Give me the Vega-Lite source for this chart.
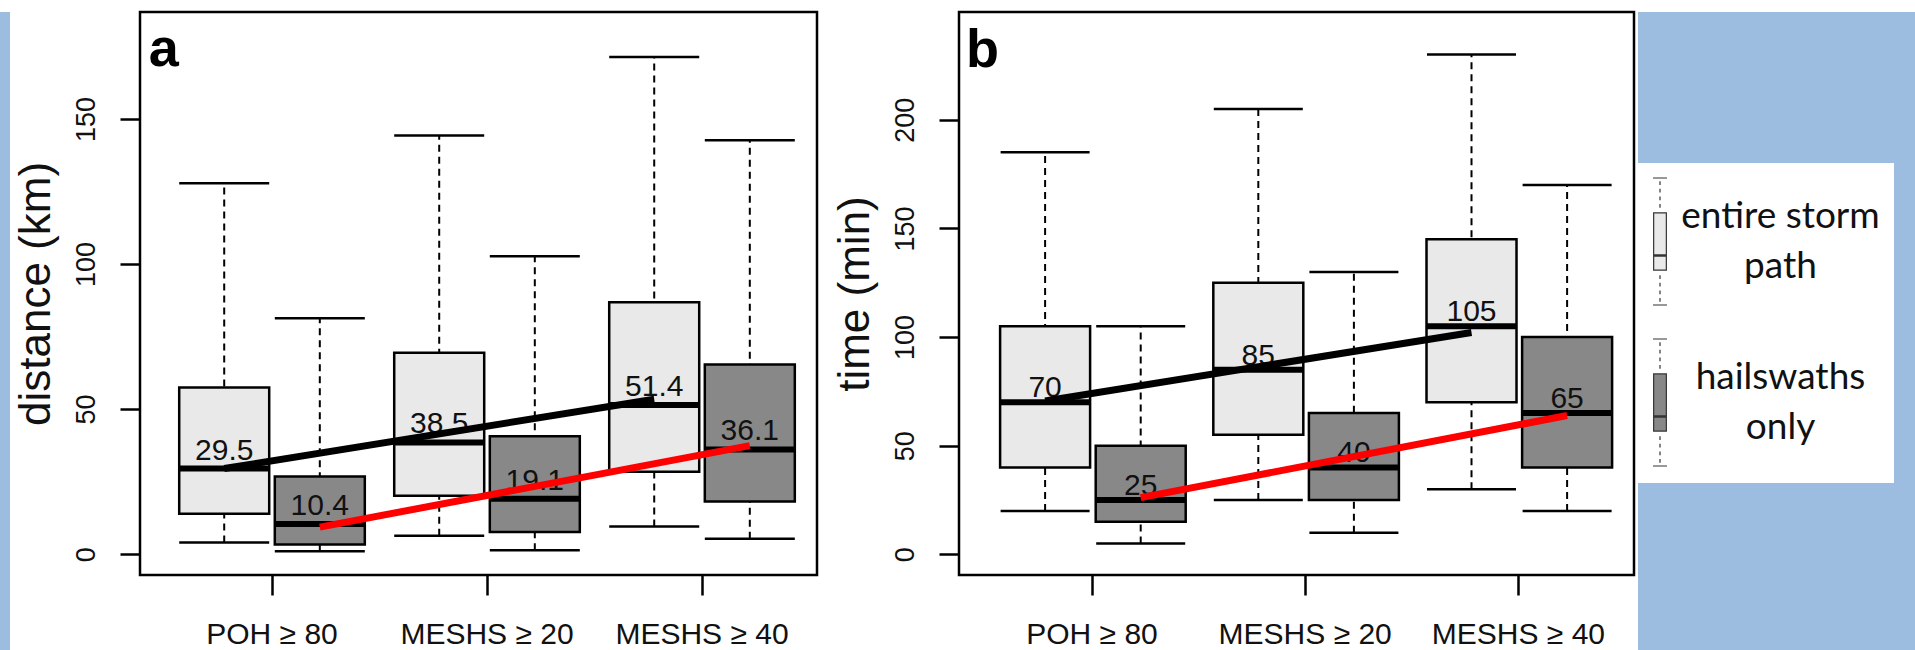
{
  "$schema": "https://vega.github.io/schema/vega-lite/v6.json",
  "background": "white",
  "padding": {"left": 0, "top": 10, "right": 0, "bottom": 0},
  "spacing": 2,
  "datasets": {
    "boxesA": [
      {"group": "POH ≥ 80", "type": "entire storm path", "lower": 4.0, "q1": 13.9, "median": 29.5, "q3": 57.4, "upper": 127.9},
      {"group": "POH ≥ 80", "type": "hailswaths only", "lower": 1.0, "q1": 3.3, "median": 10.4, "q3": 26.8, "upper": 81.3},
      {"group": "MESHS ≥ 20", "type": "entire storm path", "lower": 6.3, "q1": 20.1, "median": 38.5, "q3": 69.4, "upper": 144.3},
      {"group": "MESHS ≥ 20", "type": "hailswaths only", "lower": 1.3, "q1": 7.6, "median": 19.1, "q3": 40.6, "upper": 102.7},
      {"group": "MESHS ≥ 40", "type": "entire storm path", "lower": 9.5, "q1": 28.4, "median": 51.4, "q3": 86.8, "upper": 171.4},
      {"group": "MESHS ≥ 40", "type": "hailswaths only", "lower": 5.3, "q1": 18.1, "median": 36.1, "q3": 65.4, "upper": 142.7}
    ],
    "boxesB": [
      {"group": "POH ≥ 80", "type": "entire storm path", "lower": 20, "q1": 40, "median": 70, "q3": 105, "upper": 185},
      {"group": "POH ≥ 80", "type": "hailswaths only", "lower": 5, "q1": 15, "median": 25, "q3": 50, "upper": 105},
      {"group": "MESHS ≥ 20", "type": "entire storm path", "lower": 25, "q1": 55, "median": 85, "q3": 125, "upper": 205},
      {"group": "MESHS ≥ 20", "type": "hailswaths only", "lower": 10, "q1": 25, "median": 40, "q3": 65, "upper": 130},
      {"group": "MESHS ≥ 40", "type": "entire storm path", "lower": 30, "q1": 70, "median": 105, "q3": 145, "upper": 230},
      {"group": "MESHS ≥ 40", "type": "hailswaths only", "lower": 20, "q1": 40, "median": 65, "q3": 100, "upper": 170}
    ],
    "trendA": [
      {"group": "POH ≥ 80", "type": "entire storm path", "series": "entire", "value": 29.5},
      {"group": "MESHS ≥ 40", "type": "entire storm path", "series": "entire", "value": 53.4},
      {"group": "POH ≥ 80", "type": "hailswaths only", "series": "hails", "value": 9.3},
      {"group": "MESHS ≥ 40", "type": "hailswaths only", "series": "hails", "value": 37.4}
    ],
    "trendB": [
      {"group": "POH ≥ 80", "type": "entire storm path", "series": "entire", "value": 70.6},
      {"group": "MESHS ≥ 40", "type": "entire storm path", "series": "entire", "value": 102.1},
      {"group": "POH ≥ 80", "type": "hailswaths only", "series": "hails", "value": 26.1},
      {"group": "MESHS ≥ 40", "type": "hailswaths only", "series": "hails", "value": 63.9}
    ]
  },
  "hconcat": [
    {
      "width": 10, "height": 640,
      "view": {"fill": "#9dbde0", "stroke": null},
      "data": {"values": []},
      "mark": "point"
    },
    {
      "spacing": 12,
      "hconcat": [
        {
          "width": 677, "height": 563,
          "layer": [
            {
              "data": {"name": "boxesA"},
              "mark": {"type": "rule", "color": "black", "strokeWidth": 2, "strokeDash": [7, 5]},
              "encoding": {
                "x": {"field": "group", "type": "nominal", "scale": {"domain": ["POH ≥ 80", "MESHS ≥ 20", "MESHS ≥ 40"], "paddingInner": 0, "paddingOuter": 0.0744, "align": 0.766}, "axis": {"title": null}},
                "xOffset": {"field": "type", "type": "nominal", "scale": {"domain": ["entire storm path", "hailswaths only"], "paddingInner": 0.0586, "paddingOuter": 0.1538}},
                "y": {"field": "lower", "type": "quantitative", "scale": {"domain": [-7.2, 186.9], "nice": false, "zero": false}, "axis": {"values": [0, 50, 100, 150], "title": "distance (km)"}},
                "y2": {"field": "upper"}
              }
            },
            {
              "data": {"name": "boxesA"},
              "mark": {"type": "bar", "stroke": "black", "strokeWidth": 2.5},
              "encoding": {
                "x": {"field": "group", "type": "nominal", "scale": {"domain": ["POH ≥ 80", "MESHS ≥ 20", "MESHS ≥ 40"], "paddingInner": 0, "paddingOuter": 0.0744, "align": 0.766}, "axis": {"title": null}},
                "xOffset": {"field": "type", "type": "nominal", "scale": {"domain": ["entire storm path", "hailswaths only"], "paddingInner": 0.0586, "paddingOuter": 0.1538}},
                "y": {"field": "q1", "type": "quantitative", "scale": {"domain": [-7.2, 186.9], "nice": false, "zero": false}, "axis": {"values": [0, 50, 100, 150], "title": "distance (km)"}},
                "y2": {"field": "q3"},
                "fill": {
                  "field": "type", "type": "nominal",
                  "scale": {"domain": ["entire storm path", "hailswaths only"], "range": ["#e9e9e9", "#888888"]},
                  "legend": {
                    "title": null, "orient": "none", "legendX": 1637, "legendY": 151, "direction": "vertical",
                    "padding": 14, "fillColor": "white", "strokeColor": null,
                    "symbolType": "M-0.11,-1H0.11M0,-0.95V-0.89M0,-0.83V-0.77M0,-0.71V-0.65M0,-0.59V-0.53M-0.1,-0.45H0.1V0.45H-0.1ZM-0.1,0.21H0.1M-0.1,0.23H0.1M0,0.53V0.59M0,0.65V0.71M0,0.77V0.83M0,0.89V0.95M-0.11,1H0.11",
                    "symbolSize": 16129, "symbolStrokeColor": "#333333", "symbolStrokeWidth": 1.2, "symbolOffset": -55.5,
                    "labelFont": "Lato", "labelFontSize": 37, "labelColor": "#111111", "labelAlign": "center", "labelBaseline": "line-bottom",
                    "labelOffset": 56, "labelLimit": 0, "rowPadding": 28,
                    "labelExpr": "datum.label == 'entire storm path' ? ['entire storm', 'path'] : ['hailswaths', 'only']"
                  }
                }
              }
            },
            {
              "data": {"name": "boxesA"},
              "mark": {"type": "tick", "color": "black", "opacity": 1, "thickness": 6, "size": 90, "orient": "horizontal"},
              "encoding": {
                "x": {"field": "group", "type": "nominal", "scale": {"domain": ["POH ≥ 80", "MESHS ≥ 20", "MESHS ≥ 40"], "paddingInner": 0, "paddingOuter": 0.0744, "align": 0.766}, "axis": {"title": null}},
                "xOffset": {"field": "type", "type": "nominal", "scale": {"domain": ["entire storm path", "hailswaths only"], "paddingInner": 0.0586, "paddingOuter": 0.1538}},
                "y": {"field": "median", "type": "quantitative", "scale": {"domain": [-7.2, 186.9], "nice": false, "zero": false}, "axis": {"values": [0, 50, 100, 150], "title": "distance (km)"}}
              }
            },
            {
              "data": {"name": "boxesA"},
              "mark": {"type": "tick", "color": "black", "opacity": 1, "thickness": 2.5, "size": 90, "orient": "horizontal"},
              "encoding": {
                "x": {"field": "group", "type": "nominal", "scale": {"domain": ["POH ≥ 80", "MESHS ≥ 20", "MESHS ≥ 40"], "paddingInner": 0, "paddingOuter": 0.0744, "align": 0.766}, "axis": {"title": null}},
                "xOffset": {"field": "type", "type": "nominal", "scale": {"domain": ["entire storm path", "hailswaths only"], "paddingInner": 0.0586, "paddingOuter": 0.1538}},
                "y": {"field": "lower", "type": "quantitative", "scale": {"domain": [-7.2, 186.9], "nice": false, "zero": false}, "axis": {"values": [0, 50, 100, 150], "title": "distance (km)"}}
              }
            },
            {
              "data": {"name": "boxesA"},
              "mark": {"type": "tick", "color": "black", "opacity": 1, "thickness": 2.5, "size": 90, "orient": "horizontal"},
              "encoding": {
                "x": {"field": "group", "type": "nominal", "scale": {"domain": ["POH ≥ 80", "MESHS ≥ 20", "MESHS ≥ 40"], "paddingInner": 0, "paddingOuter": 0.0744, "align": 0.766}, "axis": {"title": null}},
                "xOffset": {"field": "type", "type": "nominal", "scale": {"domain": ["entire storm path", "hailswaths only"], "paddingInner": 0.0586, "paddingOuter": 0.1538}},
                "y": {"field": "upper", "type": "quantitative", "scale": {"domain": [-7.2, 186.9], "nice": false, "zero": false}, "axis": {"values": [0, 50, 100, 150], "title": "distance (km)"}}
              }
            },
            {
              "data": {"name": "boxesA"},
              "mark": {"type": "text", "fontSize": 30, "dy": -18, "baseline": "middle", "color": "#111111"},
              "encoding": {
                "x": {"field": "group", "type": "nominal", "scale": {"domain": ["POH ≥ 80", "MESHS ≥ 20", "MESHS ≥ 40"], "paddingInner": 0, "paddingOuter": 0.0744, "align": 0.766}, "axis": {"title": null}},
                "xOffset": {"field": "type", "type": "nominal", "scale": {"domain": ["entire storm path", "hailswaths only"], "paddingInner": 0.0586, "paddingOuter": 0.1538}},
                "y": {"field": "median", "type": "quantitative", "scale": {"domain": [-7.2, 186.9], "nice": false, "zero": false}, "axis": {"values": [0, 50, 100, 150], "title": "distance (km)"}},
                "text": {"field": "median", "type": "quantitative", "format": ".1f"}
              }
            },
            {
              "data": {"name": "trendA"},
              "mark": {"type": "line", "strokeWidth": 7, "strokeCap": "butt"},
              "encoding": {
                "x": {"field": "group", "type": "nominal", "scale": {"domain": ["POH ≥ 80", "MESHS ≥ 20", "MESHS ≥ 40"], "paddingInner": 0, "paddingOuter": 0.0744, "align": 0.766}, "axis": {"title": null}},
                "xOffset": {"field": "type", "type": "nominal", "scale": {"domain": ["entire storm path", "hailswaths only"], "paddingInner": 0.0586, "paddingOuter": 0.1538}},
                "y": {"field": "value", "type": "quantitative", "scale": {"domain": [-7.2, 186.9], "nice": false, "zero": false}, "axis": {"values": [0, 50, 100, 150], "title": "distance (km)"}},
                "stroke": {"field": "series", "type": "nominal", "scale": {"domain": ["entire", "hails"], "range": ["black", "#ff0000"]}, "legend": null}
              }
            },
            {
              "data": {"values": [{}]},
              "mark": {"type": "text", "text": "a", "fontSize": 54, "fontWeight": "bold", "align": "right", "baseline": "alphabetic", "color": "black"},
              "encoding": {
                "x": {"datum": "POH ≥ 80", "bandPosition": 0.067, "scale": {"domain": ["POH ≥ 80", "MESHS ≥ 20", "MESHS ≥ 40"], "paddingInner": 0, "paddingOuter": 0.0744, "align": 0.766}, "axis": {"title": null}},
                "y": {"datum": 168.3, "scale": {"domain": [-7.2, 186.9], "nice": false, "zero": false}, "axis": {"values": [0, 50, 100, 150], "title": "distance (km)"}}
              }
            }
          ]
        },
        {
          "width": 675, "height": 563,
          "layer": [
            {
              "data": {"name": "boxesB"},
              "mark": {"type": "rule", "color": "black", "strokeWidth": 2, "strokeDash": [7, 5]},
              "encoding": {
                "x": {"field": "group", "type": "nominal", "scale": {"domain": ["POH ≥ 80", "MESHS ≥ 20", "MESHS ≥ 40"], "paddingInner": 0, "paddingOuter": 0.083, "align": 0.746}, "axis": {"title": null}},
                "xOffset": {"field": "type", "type": "nominal", "scale": {"domain": ["entire storm path", "hailswaths only"], "paddingInner": 0.062, "paddingOuter": 0.1543}},
                "y": {"field": "lower", "type": "quantitative", "scale": {"domain": [-9.5, 249.6], "nice": false, "zero": false}, "axis": {"values": [0, 50, 100, 150, 200], "title": "time (min)"}},
                "y2": {"field": "upper"}
              }
            },
            {
              "data": {"name": "boxesB"},
              "mark": {"type": "bar", "stroke": "black", "strokeWidth": 2.5},
              "encoding": {
                "x": {"field": "group", "type": "nominal", "scale": {"domain": ["POH ≥ 80", "MESHS ≥ 20", "MESHS ≥ 40"], "paddingInner": 0, "paddingOuter": 0.083, "align": 0.746}, "axis": {"title": null}},
                "xOffset": {"field": "type", "type": "nominal", "scale": {"domain": ["entire storm path", "hailswaths only"], "paddingInner": 0.062, "paddingOuter": 0.1543}},
                "y": {"field": "q1", "type": "quantitative", "scale": {"domain": [-9.5, 249.6], "nice": false, "zero": false}, "axis": {"values": [0, 50, 100, 150, 200], "title": "time (min)"}},
                "y2": {"field": "q3"},
                "fill": {
                  "field": "type", "type": "nominal",
                  "scale": {"domain": ["entire storm path", "hailswaths only"], "range": ["#e9e9e9", "#888888"]},
                  "legend": {
                    "title": null, "orient": "none", "legendX": 1637, "legendY": 151, "direction": "vertical",
                    "padding": 14, "fillColor": "white", "strokeColor": null,
                    "symbolType": "M-0.11,-1H0.11M0,-0.95V-0.89M0,-0.83V-0.77M0,-0.71V-0.65M0,-0.59V-0.53M-0.1,-0.45H0.1V0.45H-0.1ZM-0.1,0.21H0.1M-0.1,0.23H0.1M0,0.53V0.59M0,0.65V0.71M0,0.77V0.83M0,0.89V0.95M-0.11,1H0.11",
                    "symbolSize": 16129, "symbolStrokeColor": "#333333", "symbolStrokeWidth": 1.2, "symbolOffset": -55.5,
                    "labelFont": "Lato", "labelFontSize": 37, "labelColor": "#111111", "labelAlign": "center", "labelBaseline": "line-bottom",
                    "labelOffset": 56, "labelLimit": 0, "rowPadding": 28,
                    "labelExpr": "datum.label == 'entire storm path' ? ['entire storm', 'path'] : ['hailswaths', 'only']"
                  }
                }
              }
            },
            {
              "data": {"name": "boxesB"},
              "mark": {"type": "tick", "color": "black", "opacity": 1, "thickness": 6, "size": 89, "orient": "horizontal"},
              "encoding": {
                "x": {"field": "group", "type": "nominal", "scale": {"domain": ["POH ≥ 80", "MESHS ≥ 20", "MESHS ≥ 40"], "paddingInner": 0, "paddingOuter": 0.083, "align": 0.746}, "axis": {"title": null}},
                "xOffset": {"field": "type", "type": "nominal", "scale": {"domain": ["entire storm path", "hailswaths only"], "paddingInner": 0.062, "paddingOuter": 0.1543}},
                "y": {"field": "median", "type": "quantitative", "scale": {"domain": [-9.5, 249.6], "nice": false, "zero": false}, "axis": {"values": [0, 50, 100, 150, 200], "title": "time (min)"}}
              }
            },
            {
              "data": {"name": "boxesB"},
              "mark": {"type": "tick", "color": "black", "opacity": 1, "thickness": 2.5, "size": 89, "orient": "horizontal"},
              "encoding": {
                "x": {"field": "group", "type": "nominal", "scale": {"domain": ["POH ≥ 80", "MESHS ≥ 20", "MESHS ≥ 40"], "paddingInner": 0, "paddingOuter": 0.083, "align": 0.746}, "axis": {"title": null}},
                "xOffset": {"field": "type", "type": "nominal", "scale": {"domain": ["entire storm path", "hailswaths only"], "paddingInner": 0.062, "paddingOuter": 0.1543}},
                "y": {"field": "lower", "type": "quantitative", "scale": {"domain": [-9.5, 249.6], "nice": false, "zero": false}, "axis": {"values": [0, 50, 100, 150, 200], "title": "time (min)"}}
              }
            },
            {
              "data": {"name": "boxesB"},
              "mark": {"type": "tick", "color": "black", "opacity": 1, "thickness": 2.5, "size": 89, "orient": "horizontal"},
              "encoding": {
                "x": {"field": "group", "type": "nominal", "scale": {"domain": ["POH ≥ 80", "MESHS ≥ 20", "MESHS ≥ 40"], "paddingInner": 0, "paddingOuter": 0.083, "align": 0.746}, "axis": {"title": null}},
                "xOffset": {"field": "type", "type": "nominal", "scale": {"domain": ["entire storm path", "hailswaths only"], "paddingInner": 0.062, "paddingOuter": 0.1543}},
                "y": {"field": "upper", "type": "quantitative", "scale": {"domain": [-9.5, 249.6], "nice": false, "zero": false}, "axis": {"values": [0, 50, 100, 150, 200], "title": "time (min)"}}
              }
            },
            {
              "data": {"name": "boxesB"},
              "mark": {"type": "text", "fontSize": 30, "dy": -14, "baseline": "middle", "color": "#111111"},
              "encoding": {
                "x": {"field": "group", "type": "nominal", "scale": {"domain": ["POH ≥ 80", "MESHS ≥ 20", "MESHS ≥ 40"], "paddingInner": 0, "paddingOuter": 0.083, "align": 0.746}, "axis": {"title": null}},
                "xOffset": {"field": "type", "type": "nominal", "scale": {"domain": ["entire storm path", "hailswaths only"], "paddingInner": 0.062, "paddingOuter": 0.1543}},
                "y": {"field": "median", "type": "quantitative", "scale": {"domain": [-9.5, 249.6], "nice": false, "zero": false}, "axis": {"values": [0, 50, 100, 150, 200], "title": "time (min)"}},
                "text": {"field": "median", "type": "quantitative", "format": "d"}
              }
            },
            {
              "data": {"name": "trendB"},
              "mark": {"type": "line", "strokeWidth": 7, "strokeCap": "butt"},
              "encoding": {
                "x": {"field": "group", "type": "nominal", "scale": {"domain": ["POH ≥ 80", "MESHS ≥ 20", "MESHS ≥ 40"], "paddingInner": 0, "paddingOuter": 0.083, "align": 0.746}, "axis": {"title": null}},
                "xOffset": {"field": "type", "type": "nominal", "scale": {"domain": ["entire storm path", "hailswaths only"], "paddingInner": 0.062, "paddingOuter": 0.1543}},
                "y": {"field": "value", "type": "quantitative", "scale": {"domain": [-9.5, 249.6], "nice": false, "zero": false}, "axis": {"values": [0, 50, 100, 150, 200], "title": "time (min)"}},
                "stroke": {"field": "series", "type": "nominal", "scale": {"domain": ["entire", "hails"], "range": ["black", "#ff0000"]}, "legend": null}
              }
            },
            {
              "data": {"values": [{}]},
              "mark": {"type": "text", "text": "b", "fontSize": 54, "fontWeight": "bold", "align": "right", "baseline": "alphabetic", "color": "black"},
              "encoding": {
                "x": {"datum": "POH ≥ 80", "bandPosition": 0.064, "scale": {"domain": ["POH ≥ 80", "MESHS ≥ 20", "MESHS ≥ 40"], "paddingInner": 0, "paddingOuter": 0.083, "align": 0.746}, "axis": {"title": null}},
                "y": {"datum": 224.3, "scale": {"domain": [-9.5, 249.6], "nice": false, "zero": false}, "axis": {"values": [0, 50, 100, 150, 200], "title": "time (min)"}}
              }
            }
          ]
        }
      ]
    },
    {
      "width": 283, "height": 640,
      "view": {"fill": "#9dbde0", "stroke": null},
      "data": {"values": []},
      "mark": "point"
    }
  ],
  "config": {
    "font": "Liberation Sans",
    "view": {"stroke": "black", "strokeWidth": 2.5},
    "axis": {
      "domain": false, "grid": false, "ticks": true, "tickColor": "black", "tickWidth": 2.5, "tickSize": 20,
      "labelColor": "#111111", "titleColor": "#111111", "labelFont": "Liberation Sans", "titleFont": "Liberation Sans", "titleFontWeight": "normal"
    },
    "axisX": {"labelFontSize": 30, "labelPadding": 24, "labelAngle": 0, "labelLimit": 0},
    "axisY": {
      "labelFontSize": 27, "labelAngle": -90, "labelAlign": "center", "labelBaseline": "bottom", "labelPadding": 20,
      "titleFontSize": 44, "titleX": -104, "titleBaseline": "middle", "titleAlign": "center"
    },
    "style": {"guide-label": {"lineHeight": 50}}
  }
}
